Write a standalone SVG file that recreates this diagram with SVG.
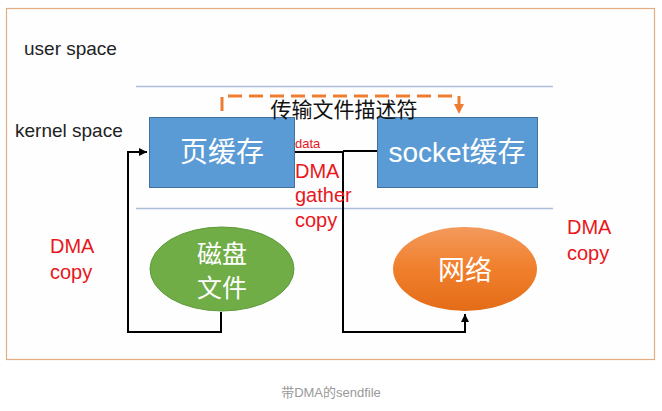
<svg xmlns="http://www.w3.org/2000/svg" width="662" height="411" viewBox="0 0 662 411">
<defs>
<style>
.lbl{font-family:"Liberation Sans","Noto Sans CJK SC",Arial,sans-serif;}
.zh{font-family:"Noto Sans CJK SC","Liberation Sans",sans-serif;}
.red{fill:#e8171c;font-size:20px;}
.sep{stroke:#adbddc;stroke-width:1.5;}
.box{fill:#5b9bd5;stroke:#41719c;stroke-width:1;}
.wt{fill:#ffffff;}
.conn{fill:none;stroke:#000;stroke-width:2;}
</style>
<marker id="ah" viewBox="0 0 10 10" refX="10" refY="5" markerWidth="4" markerHeight="4" orient="auto" markerUnits="strokeWidth">
<path d="M0,0 L10,5 L0,10 z" fill="#000"/>
</marker>
<marker id="ahOr" viewBox="0 0 10 10" refX="10" refY="5" markerWidth="3.5" markerHeight="3.5" orient="auto" markerUnits="strokeWidth">
<path d="M0,0 L10,5 L0,10 z" fill="#ed7d31"/>
</marker>
<linearGradient id="og" x1="0" y1="0" x2="0" y2="1">
<stop offset="0" stop-color="#f39a5c"/>
<stop offset="0.5" stop-color="#f07f2c"/>
<stop offset="1" stop-color="#e46c17"/>
</linearGradient>
</defs>
<rect width="662" height="411" fill="#ffffff"/>
<rect id="frame" x="6.5" y="8.5" width="648" height="351" fill="#fefefe" stroke="#e3ad83" stroke-width="1.2"/>
<g id="separators">
<line class="sep" x1="136" y1="86.5" x2="553" y2="86.5"/>
<line class="sep" x1="136" y1="208.5" x2="553" y2="208.5"/>
</g>
<text class="lbl" x="24" y="55" font-size="19" fill="#222">user space</text>
<text class="lbl" x="15" y="137" font-size="19" fill="#222">kernel space</text>
<g id="connectors">
<path class="conn" d="M221,312 V332 H128 V152 H147" marker-end="url(#ah)"/>
<path class="conn" d="M295,152 H343 M343,151 H377 M343,151 V332 H465 V314" marker-end="url(#ah)"/>
<path d="M222,111 V96 H459 V114" fill="none" stroke="#ed7d31" stroke-width="3" stroke-dasharray="14,7" marker-end="url(#ahOr)"/>
</g>
<g id="pagecache">
<rect class="box" x="149.5" y="117.5" width="145" height="70"/>
<text class="zh wt" x="222" y="162" font-size="28" text-anchor="middle">页缓存</text>
</g>
<g id="socketcache">
<rect class="box" x="377.5" y="117.5" width="160" height="70"/>
<text class="lbl wt" x="457" y="162" font-size="28" text-anchor="middle">socket<tspan class="zh">缓存</tspan></text>
</g>
<text class="zh" x="344" y="117" font-size="21" text-anchor="middle" fill="#111">传输文件描述符</text>
<g id="diskfile">
<ellipse cx="222" cy="269" rx="72" ry="42" fill="#70ad47" stroke="#5f9a3a" stroke-width="1"/>
<text class="lbl wt" font-size="25" text-anchor="middle"><tspan x="222" y="263">磁盘</tspan><tspan x="222" y="297">文件</tspan></text>
</g>
<g id="network">
<ellipse cx="465" cy="269" rx="72" ry="42" fill="url(#og)"/>
<text class="zh wt" x="465" y="280" font-size="27" text-anchor="middle">网络</text>
</g>
<text class="lbl" x="295" y="148" font-size="13" fill="#e8171c">data</text>
<text class="lbl red" x="295" y="178">DMA</text>
<text class="lbl red" x="295" y="202">gather</text>
<text class="lbl red" x="295" y="227">copy</text>
<text class="lbl red" x="50" y="253">DMA</text>
<text class="lbl red" x="50" y="279">copy</text>
<text class="lbl red" x="567" y="234">DMA</text>
<text class="lbl red" x="567" y="260">copy</text>
<text class="lbl" x="331" y="397" font-size="13" fill="#999" text-anchor="middle">带DMA的sendfile</text>
</svg>
